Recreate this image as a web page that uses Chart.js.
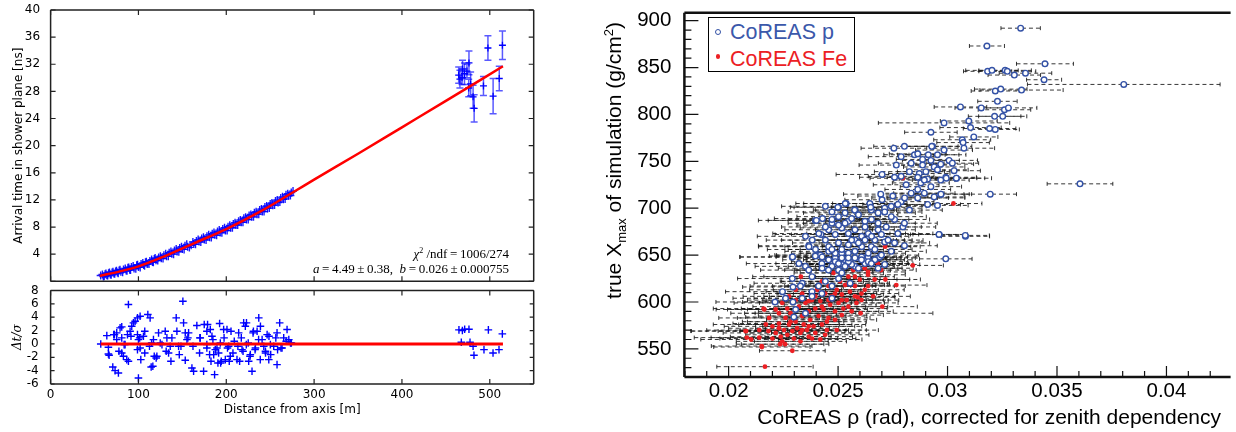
<!DOCTYPE html>
<html>
<head>
<meta charset="utf-8">
<script src="https://cdn.jsdelivr.net/npm/chart.js@4.4.1/dist/chart.umd.min.js"></script>
<style>
  body { margin: 0; width: 1236px; height: 432px; position: relative; overflow: hidden; background: #fff; }
  canvas { position: absolute; }
  .note { position: absolute; right: 727px; white-space: nowrap; font: 13px 'Liberation Serif'; line-height: 16px; color: #000; }
  .note sup { font-size: 8px; line-height: 0; vertical-align: 5px; }
  #legend { position: absolute; left: 708px; top: 17px; width: 145px; height: 53px; border: 1.5px solid #000; background: #fff; font: 21.5px 'Liberation Sans'; }
  #legend div { position: absolute; white-space: nowrap; line-height: 24px; }
  .rtitle { position: absolute; white-space: nowrap; font: 21px 'Liberation Sans'; line-height: 26px; color: #000; }
  .rtitle sub, .rtitle sup { font-size: 13px; line-height: 0; }
</style>
</head>
<body>
<canvas id="timeChart" width="540" height="311" style="left:0;top:-20px"></canvas>
<canvas id="residChart" width="540" height="167" style="left:0;top:265px"></canvas>
<canvas id="rhoChart" width="636" height="452" style="left:600px;top:-20px"></canvas>

<div class="note" style="top:246px"><i>χ</i><sup>2</sup> /ndf&thinsp;=&thinsp;1006/274</div>
<div class="note" style="top:260.5px"><i>a</i>&thinsp;=&thinsp;4.49&thinsp;±&thinsp;0.38, &nbsp;<i>b</i>&thinsp;=&thinsp;0.026&thinsp;±&thinsp;0.000755</div>

<div id="legend">
  <div style="left:6px;top:10.8px;width:6px;height:6px;box-sizing:border-box;border:1.3px solid #3452a6;border-radius:50%"></div>
  <div style="left:21px;top:1.8px;color:#3b58aa">CoREAS p</div>
  <div style="left:6.8px;top:36.3px;width:4.4px;height:4.4px;border-radius:50%;background:#ec2024"></div>
  <div style="left:21px;top:28.8px;color:#ec2024">CoREAS Fe</div>
</div>

<div class="rtitle" style="left:454px;top:169px;width:320px;text-align:right;transform:rotate(-90deg)">true X<sub>max</sub> of simulation (g/cm<sup>2</sup>)</div>
<div class="rtitle" style="right:15px;top:404px">CoREAS ρ (rad), corrected for zenith dependency</div>

<script>
// ---- left panel: arrival time vs distance ----
const bandDist = [57,60,62,64,66,68,70,72,74,76,78,80,83,86,88,90,92,95,98,100,103,106,108,110,113,116,118,120,123,126,129,132,135,138,141,144,147,150,153,156,160,163,166,169,172,175,178,181,184,187,190,193,196,199,202,205,208,211,214,217,220,223,226,229,232,235,238,241,244,247,250,253,256,259,262,265,268,271,274,
  59,61,63,65,67,69,71,73,75,77,79,82,85,87,89,91,94,97,99,102,105,107,109,112,115,117,119,122,125,128,131,134,137,140,143,146,149,152,155,158,162,165,168,171,174,177,180,183,186,189,192,195,198,201,204,207,210,213,216,219,222,225,228,231,234,237,240,243,246,249,252,255,258,261,264,267,270,273,276];
const bandTime = [0.85,0.7,1.05,0.9,1.2,1.0,1.3,1.15,1.45,1.3,1.6,1.4,1.75,1.6,2.0,1.7,2.1,1.9,2.35,2.1,2.55,2.4,2.8,2.55,3.0,2.85,3.3,3.1,3.5,3.4,3.85,3.7,4.2,4.05,4.55,4.4,4.9,4.75,5.25,5.1,5.3,5.5,5.95,5.85,6.3,6.15,6.65,6.5,7.0,6.85,7.35,7.2,7.7,7.5,8.05,7.9,8.45,8.3,8.85,8.7,9.3,9.1,9.7,9.5,10.1,9.9,10.5,10.3,10.95,10.75,11.4,11.2,11.85,11.6,12.3,12.1,12.75,12.6,13.1,
  1.0,0.75,1.15,0.85,1.3,0.95,1.4,1.1,1.55,1.2,1.7,1.35,1.9,1.55,2.05,1.65,2.25,1.85,2.45,2.05,2.7,2.3,2.9,2.55,3.2,2.8,3.45,3.05,3.7,3.35,4.05,3.7,4.4,4.0,4.75,4.35,5.1,4.7,5.45,5.0,5.8,5.45,6.15,5.8,6.5,6.1,6.85,6.45,7.2,6.8,7.55,7.15,7.9,7.5,8.25,7.9,8.65,8.3,9.05,8.7,9.45,9.1,9.85,9.5,10.25,9.9,10.65,10.3,11.1,10.8,11.55,11.25,12.0,11.7,12.45,12.15,12.9,12.65,13.3];

const farDist = [464.6,466,468.4,469,471.2,474,476.3,476,478.2,481,482.2,492.8,497.9,503.8,510.8,514.4];
const farTime = [30.4,29.8,30.0,31.3,30.6,31.0,32.2,28.5,29.1,27.2,25.5,28.8,34.4,27.3,29.9,34.8];
const farErr = [1.2,1.3,1.0,1.3,1.6,1.0,1.75,1.3,1.75,1.7,2.0,1.4,1.8,2.6,1.8,2.1];

const fitDist = [56,80,100,128,163,200,239,277,300,350,400,450,515];
const fitTime = [0.8,1.5,2.2,3.6,5.6,7.7,10.3,13.2,15.0,18.8,22.7,26.6,31.7];

const resDist = [
  57.1,64,65.8,65.8,66.6,70.8,73.4,77.2,72.7,75.3,
  75.3,79.1,81,81,81,82.9,86.7,88.6,88.6,87.5,
  84.8,90.5,92.4,94.3,96.2,98.9,101.9,98.9,100,101.9,
  102.7,100,98.9,105.7,110.7,113.3,112.6,114.5,116.4,118,
  120.2,117.1,122.9,124.8,130.5,132.4,131.6,134.3,136.2,137,
  138.1,143,145.7,143.8,150.6,151.4,153.3,153.3,155.2,157.1,
  160.9,162.8,166.5,169.6,170.4,174.2,174.9,178.7,177.9,181.8,
  181,183.7,184.8,186.7,187.5,189.4,190.5,191.3,192.4,193.2,
  194.3,197,198.9,200.8,202.7,204.6,207.6,209.1,212.2,214.1,
  217.9,219.8,221.7,222.8,225.5,227.4,229.3,230.5,233.2,235.1,
  237,238.9,240.8,244.6,246.5,248.4,250.2,254,257.8,257.8,
  260.8,263.5,269.2,271.2,273.1,265.4,170,177.9,182.6,185.7,
  193.6,197.5,201.4,203.4,205.4,213.2,215.2,217.1,219.1,223,
  225,227,230.9,232.8,236.8,238.7,242.7,244.7,248.6,250.6,
  256.4,258.4,262.3,268.2,274.1,177.9,162.1,156.3,148.4,126.8,
  115,107.2,101.4,91.5,83.7,71.9,77.8,107.2,121,146.5,
  464.9,468.8,471.4,476.3,498.4,514.3,467.6,477.5,481,482,
  493.4,503.7,510.5];
const resVal = [
  0,1.25,-0.5,-1.5,-1.7,-3.45,-4,-4.35,1.4,1.65,
  0.65,2.4,2.55,0.9,-1.35,-1.85,-2.35,-2.6,5.9,1.4,
  -0.1,1.9,2.65,3.15,3.4,3.9,4.15,1.4,0.65,-0.6,
  -2.35,-5.1,-0.85,1.15,4.4,3.9,-0.35,-3.45,-3.35,-1.85,
  -2.1,0.65,1.65,0.15,1.9,0.9,-1.1,-1.35,-0.35,-2.6,
  0.9,3.9,-0.35,1.9,6.4,3.15,1.65,-2.45,0.65,1.65,
  -3.6,-4.1,2.75,-1.35,0.9,-4.1,2.9,2.9,-0.1,2.15,
  -1.6,1.15,0.65,-4.6,-0.85,-0.6,-2.85,-1.35,3.05,0.15,
  -2.6,2.15,-2.35,2.15,-0.35,-1.85,-1.35,0.4,-2.35,1.65,
  -0.85,3.15,2.65,-0.1,-2.6,-1.6,-4.1,1.65,-0.6,1.9,
  3.9,2.65,0.65,-1.1,1.4,-2.35,-0.1,-0.35,-3.1,1.65,
  3.15,-0.6,2.15,0.65,0.15,0.9,0.9,-0.6,-2.6,-1.6,
  -2.85,0.9,-0.6,-2.6,1.9,-0.35,-2.6,0.9,-1.1,3.15,
  0.15,-1.85,1.9,-0.85,0.65,-2.35,-0.35,-1.35,1.15,-1.6,
  0.9,-0.85,-0.6,0.4,0.15,1.9,-0.35,0.9,-0.35,-0.1,
  0.15,1.9,0.9,1.15,-0.1,1.4,-1.1,-1.35,-1.85,-1.6,
  2.1,2.0,2.2,2.2,2.1,1.5,0.25,0.25,-0.35,-1.7,
  -0.85,-1.35,-0.85];
const resFitDist = [57,515];
const resFitVal = [0,0];

const distTicks = [0,100,200,300,400,500];
const timeTicks = [4,8,12,16,20,24,28,32,36,40];
const timeFrameTicks = [0,4,8,12,16,20,24,28,32,36,40];
const residTicks = [-6,-4,-2,0,2,4,6,8];

// ---- right panel: CoREAS rho vs Xmax ----
const pRho = [
  0.03334,0.0318,0.03445,0.03183,0.03203,0.03263,0.03273,0.03305,0.03356,0.03441,
  0.03805,0.03338,0.03218,0.03243,0.03228,0.03059,0.03154,0.0326,0.03278,0.03252,
  0.03215,0.03097,0.02984,0.03105,0.03192,0.03218,0.02924,0.0312,0.03067,0.02755,
  0.02803,0.02931,0.03075,0.02766,0.02928,0.03071,0.02849,0.02864,0.02912,0.02886,
  0.02924,0.02969,0.03007,0.03022,0.02886,0.02939,0.02826,0.02871,0.02901,0.0303,
  0.02701,0.02758,0.02788,0.02864,0.02909,0.02992,0.03041,0.02811,0.02878,0.02924,
  0.03605,0.02969,0.02695,0.03195,0.0275,0.02788,0.02864,0.02909,0.02954,0.02537,
  0.02502,0.02577,0.02652,0.02713,0.02396,0.02429,0.02472,0.02547,0.02623,0.02683,
  0.02758,0.02796,0.02962,0.03082,0.02366,0.02442,0.02502,0.02577,0.02652,0.02713,
  0.02803,0.02291,0.02411,0.02487,0.02547,0.02623,0.02683,0.02992,0.02419,0.02457,
  0.02517,0.02577,0.02637,0.0269,0.02426,0.02487,0.02524,0.02577,0.02623,0.02683,
  0.02291,0.02336,0.02381,0.02442,0.02472,0.02502,0.02555,0.02246,0.02294,0.02381,
  0.02426,0.02212,0.02294,0.02336,0.02472,0.02306,0.02298,0.02367,0.02422,0.02401,
  0.02499,0.02533,0.02576,0.02961,0.03081,0.0297,0.02994,0.0304,0.02292,0.02442,
  0.02472,0.02502,0.02532,0.02562,0.02593,0.02623,0.02653,0.02683,0.0272,0.02457,
  0.02487,0.02517,0.02547,0.02577,0.02608,0.02638,0.02668,0.02457,0.02517,0.02547,
  0.02577,0.02608,0.02638,0.02668,0.02502,0.02532,0.02562,0.02593,0.02472,0.02427,
  0.02713,0.02743,0.02773,0.02803,0.02826,0.02743,0.02645,0.02649,0.02701,0.02351,
  0.02382,0.02412,0.02442,0.02472,0.02502,0.02532,0.02562,0.02593,0.02623,0.02653,
  0.02698,0.02728,0.02758,0.02397,0.02427,0.02457,0.02487,0.02517,0.02547,0.02577,
  0.02608,0.02638,0.02668,0.02698,0.02683,0.02713,0.02743,0.02773,0.02804,0.02834,
  0.02864,0.02894,0.02939,0.02969,0.02954,0.02894,0.02834,0.02788,0.02954,0.02984,
  0.02472,0.02502,0.02532,0.02351,0.02321,0.02366,0.02396,0.02456,0.02517,0.02547,
  0.02607,0.02652,0.02328,0.02381,0.02411,0.0226,0.02351];
const pXmax = [
  892,873,854,846,847,847,846,842,844,837,
  832,826,825,827,814,808,807,805,807,798,
  798,793,791,786,785,784,781,776,773,764,
  766,766,764,746,766,770,757,758,757,752,
  751,747,751,748,746,744,739,737,739,740,
  736,733,734,733,731,733,732,725,727,723,
  726,715,715,715,713,707,711,704,703,705,
  701,698,698,700,687,689,684,686,686,684,
  688,680,672,670,660,666,663,666,659,664,
  660,648,650,647,652,645,647,646,650,654,
  652,654,648,648,641,643,640,638,641,636,
  625,620,627,622,617,625,620,611,616,611,
  609,600,600,604,604,592,584,659,672,687,
  701,705,698,672,671,715,732,732,648,702,
  696,691,695,689,693,680,688,677,680,677,
  672,679,673,677,670,673,666,659,656,661,
  654,659,652,656,641,645,640,636,638,636,
  640,654,673,684,698,691,705,701,709,670,
  666,673,680,688,682,684,666,663,666,670,
  672,666,663,656,648,645,652,647,643,647,
  648,643,645,650,695,696,702,704,711,716,
  720,716,712,730,741,730,748,755,757,762,
  656,634,638,638,641,634,649,634,631,647,
  645,641,617,606,617,604,588];
const pErr = [
  0.0009,0.0008,0.0013,0.0011,0.0012,0.0012,0.0013,0.0012,0.0012,0.0008,
  0.0044,0.0019,0.0011,0.0012,0.0009,0.0012,0.0012,0.0012,0.0013,0.0011,
  0.0012,0.0013,0.003,0.0014,0.0012,0.0011,0.0012,0.0011,0.0013,0.0015,
  0.0014,0.0018,0.0014,0.0017,0.0012,0.0012,0.0014,0.0013,0.0014,0.0012,
  0.0013,0.0015,0.0013,0.0012,0.0013,0.0014,0.0016,0.0014,0.0013,0.0012,
  0.0021,0.0016,0.0015,0.0014,0.0013,0.0014,0.0016,0.0015,0.0013,0.0014,
  0.0015,0.0013,0.0017,0.0012,0.0016,0.0015,0.0014,0.0015,0.0014,0.0023,
  0.0022,0.0019,0.0018,0.0017,0.0026,0.0022,0.002,0.0019,0.0018,0.0017,
  0.0016,0.0015,0.0012,0.0011,0.0023,0.002,0.0021,0.0019,0.0018,0.0017,
  0.0015,0.0024,0.002,0.002,0.0019,0.0018,0.0017,0.0012,0.002,0.002,
  0.0019,0.0018,0.0018,0.0017,0.0021,0.002,0.0019,0.0018,0.0017,0.0016,
  0.0025,0.0022,0.0022,0.002,0.002,0.0019,0.0018,0.0026,0.0023,0.0021,
  0.002,0.0027,0.0023,0.0022,0.002,0.0022,0.0022,0.0023,0.0021,0.0022,
  0.002,0.0019,0.0018,0.0013,0.0011,0.0014,0.0014,0.0013,0.0024,0.002,
  0.002,0.0019,0.0019,0.0018,0.0018,0.0018,0.0017,0.0017,0.0016,0.002,
  0.002,0.0019,0.0019,0.0018,0.0018,0.0017,0.0017,0.002,0.0019,0.0019,
  0.0018,0.0018,0.0017,0.0017,0.002,0.0019,0.0019,0.0018,0.002,0.002,
  0.0016,0.0016,0.0016,0.0015,0.0015,0.0016,0.0017,0.0018,0.0017,0.0022,
  0.0021,0.0021,0.002,0.002,0.0019,0.0019,0.0019,0.0018,0.0018,0.0017,
  0.0017,0.0016,0.0016,0.0022,0.0021,0.0021,0.002,0.002,0.0019,0.0019,
  0.0018,0.0018,0.0017,0.0017,0.0017,0.0017,0.0016,0.0016,0.0015,0.0015,
  0.0015,0.0014,0.0014,0.0013,0.0014,0.0014,0.0015,0.0015,0.0013,0.0013,
  0.002,0.002,0.0019,0.0023,0.0024,0.0022,0.0021,0.002,0.0019,0.0019,
  0.0018,0.0017,0.0023,0.0022,0.0021,0.0024,0.0023];

const feRho = [
  0.03027,0.02939,0.02796,0.02841,0.02715,0.02637,0.0233,0.02716,0.02766,0.02702,
  0.02603,0.02163,0.0208,0.02083,0.02103,0.0214,0.02152,0.02235,0.02258,0.02291,
  0.02166,0.02607,0.02547,0.0259,0.0216,0.02077,0.02151,0.022,0.02215,0.0223,
  0.02238,0.02253,0.0226,0.02268,0.02276,0.02283,0.02291,0.02298,0.02306,0.02313,
  0.02321,0.02328,0.02336,0.02343,0.02351,0.02358,0.02366,0.02373,0.02381,0.02388,
  0.02396,0.02404,0.02411,0.02419,0.02426,0.02434,0.02441,0.02449,0.02456,0.02464,
  0.02471,0.02479,0.02486,0.02494,0.02502,0.02509,0.02517,0.02524,0.02532,0.02539,
  0.02547,0.02554,0.02562,0.02569,0.02577,0.02584,0.02599,0.02622,0.02637,0.0266,
  0.02682,0.02245,0.022,0.02182,0.02366,0.02419,0.02449,0.0223,0.02268,0.02185,
  0.02215,0.02245,0.02276,0.02306,0.02336,0.02366,0.02396,0.02426,0.02456,0.02486,
  0.02517,0.02547,0.02577,0.02607,0.02637,0.02667,0.02697,0.02517,0.02486,0.02456,
  0.02426,0.02396,0.02366,0.02336,0.02306,0.02283,0.02328,0.02381,0.02441,0.02494,
  0.0223,0.0217,0.0214,0.02577,0.02622,0.02502,0.02547];
const feXmax = [
  705,711,732,639,659,632,627,624,618,595,
  588,592,569,562,560,562,552,555,555,548,
  531,609,620,605,593,569,553,574,567,577,
  563,570,583,565,576,588,569,561,579,572,
  595,567,585,576,599,570,590,581,602,574,
  593,613,585,601,622,592,609,579,617,597,
  606,631,590,613,599,622,608,593,618,602,
  627,611,590,634,617,599,624,613,629,606,
  641,558,561,569,563,560,570,588,593,583,
  592,599,606,613,570,574,567,576,583,581,
  586,595,606,602,617,624,634,602,609,602,
  595,606,601,609,602,579,558,561,565,570,
  572,576,570,627,636,634,640];
const feErr = [
  0.0013,0.0014,0.0015,0.0014,0.0016,0.0017,0.0022,0.0016,0.0014,0.0016,
  0.0033,0.0022,0.0025,0.0024,0.0023,0.0022,0.0022,0.002,0.002,0.0015,
  0.0022,0.0017,0.0018,0.0017,0.0023,0.0025,0.0023,0.0022,0.0024,0.0021,
  0.0023,0.002,0.0022,0.0019,0.0023,0.0021,0.0024,0.002,0.0022,0.0019,
  0.0021,0.0023,0.002,0.0022,0.0021,0.0019,0.0023,0.002,0.0021,0.0022,
  0.0019,0.002,0.0022,0.0021,0.0019,0.002,0.0022,0.0018,0.002,0.0021,
  0.0019,0.0018,0.002,0.0019,0.0021,0.0018,0.0019,0.002,0.0018,0.0019,
  0.0017,0.0018,0.0019,0.0017,0.0018,0.0019,0.0017,0.0018,0.0017,0.0017,
  0.0016,0.0021,0.0024,0.0023,0.002,0.0019,0.0018,0.0022,0.0021,0.0023,
  0.0022,0.0022,0.0021,0.0021,0.002,0.0021,0.002,0.002,0.0019,0.0019,
  0.0019,0.0018,0.0018,0.0017,0.0017,0.0016,0.0016,0.0019,0.0019,0.002,
  0.002,0.0021,0.0021,0.0022,0.0022,0.0022,0.0021,0.002,0.002,0.0019,
  0.0023,0.0024,0.0024,0.0018,0.0017,0.0019,0.0018];

const rhoTicks = [0.02,0.025,0.03,0.035,0.04];
const rhoTickLabels = ['0.02','0.025','0.03','0.035','0.04'];
const rhoMinor = [0.018,0.019,0.021,0.022,0.023,0.024,0.026,0.027,0.028,0.029,0.031,0.032,0.033,0.034,0.036,0.037,0.038,0.039,0.041,0.042];
const xmaxTicks = [550,600,650,700,750,800,850,900];
const xmaxMinor = [530,540,560,570,580,590,610,620,630,640,660,670,680,690,710,720,730,740,760,770,780,790,810,820,830,840,860,870,880,890];

Chart.defaults.color = '#000';
Chart.defaults.animation = false;
Chart.defaults.events = [];
Chart.defaults.plugins.legend.display = false;
Chart.defaults.plugins.tooltip.enabled = false;

const pts = (xs, ys) => xs.map((v, i) => ({ x: v, y: ys[i] }));
const fixTicks = vals => s => { s.ticks = vals.map(v => ({ value: v })); };

// error bars drawn under the markers, positions from the chart scales
const errorBars = {
  id: 'errorBars',
  beforeDatasetsDraw(chart) {
    const { ctx, chartArea: a, scales: { x, y } } = chart;
    ctx.save();
    ctx.beginPath();
    ctx.rect(a.left, a.top, a.right - a.left, a.bottom - a.top);
    ctx.clip();
    chart.data.datasets.forEach(ds => {
      const e = ds.errorBars;
      if (!e) return;
      ctx.strokeStyle = e.color;
      ctx.lineWidth = e.width;
      ds.data.forEach((p, i) => {
        const px = x.getPixelForValue(p.x), py = y.getPixelForValue(p.y);
        if (e.x) {
          const l = x.getPixelForValue(p.x - e.x[i]), r = x.getPixelForValue(p.x + e.x[i]);
          ctx.setLineDash(e.dash || []);
          ctx.beginPath(); ctx.moveTo(l, py); ctx.lineTo(r, py); ctx.stroke();
          ctx.setLineDash([]);
          ctx.beginPath();
          ctx.moveTo(l, py - e.cap); ctx.lineTo(l, py + e.cap);
          ctx.moveTo(r, py - e.cap); ctx.lineTo(r, py + e.cap);
          ctx.stroke();
        }
        if (e.y) {
          const t = y.getPixelForValue(p.y + e.y[i]), b = y.getPixelForValue(p.y - e.y[i]);
          ctx.beginPath();
          ctx.moveTo(px, t); ctx.lineTo(px, b);
          ctx.moveTo(px - e.cap, t); ctx.lineTo(px + e.cap, t);
          ctx.moveTo(px - e.cap, b); ctx.lineTo(px + e.cap, b);
          ctx.stroke();
        }
      });
    });
    ctx.restore();
  }
};

// axis frame with inward-pointing tick marks
const frame = {
  id: 'frame',
  afterDatasetsDraw(chart, args, o) {
    const { ctx, chartArea: a, scales: { x, y } } = chart;
    ctx.save();
    ctx.strokeStyle = o.color;
    ctx.lineWidth = o.width;
    ctx.beginPath();
    if (o.sides.includes('top')) { ctx.moveTo(a.left, a.top); ctx.lineTo(a.right, a.top); }
    if (o.sides.includes('bottom')) { ctx.moveTo(a.left, a.bottom); ctx.lineTo(a.right, a.bottom); }
    if (o.sides.includes('left')) { ctx.moveTo(a.left, a.top); ctx.lineTo(a.left, a.bottom); }
    if (o.sides.includes('right')) { ctx.moveTo(a.right, a.top); ctx.lineTo(a.right, a.bottom); }
    ctx.stroke();
    ctx.lineWidth = o.tickWidth;
    ctx.beginPath();
    const xt = (vals, len) => vals.forEach(v => {
      const p = x.getPixelForValue(v);
      if (p < a.left - 1 || p > a.right + 1) return;
      o.xSides.forEach(s => {
        const y0 = s === 'bottom' ? a.bottom : a.top;
        ctx.moveTo(p, y0); ctx.lineTo(p, y0 + (s === 'bottom' ? -len : len));
      });
    });
    const yt = (vals, len) => vals.forEach(v => {
      const p = y.getPixelForValue(v);
      if (p < a.top - 1 || p > a.bottom + 1) return;
      o.ySides.forEach(s => {
        const x0 = s === 'left' ? a.left : a.right;
        ctx.moveTo(x0, p); ctx.lineTo(x0 + (s === 'left' ? len : -len), p);
      });
    });
    xt(o.xMajor, o.xLen);
    yt(o.yMajor, o.yLen);
    if (o.xMinor) xt(o.xMinor, o.xMinorLen);
    if (o.yMinor) yt(o.yMinor, o.yMinorLen);
    ctx.stroke();
    ctx.restore();
  }
};

const leftFont = { family: 'DejaVu Sans', size: 12 };

new Chart(document.getElementById('timeChart'), {
  type: 'scatter',
  data: {
    datasets: [
      { type: 'line', data: pts(fitDist, fitTime), borderColor: '#ff0000', borderWidth: 2.5,
        pointRadius: 0, cubicInterpolationMode: 'monotone', fill: false },
      { data: pts(farDist, farTime), pointStyle: 'cross', pointRadius: 3.5, borderColor: '#0000ff', borderWidth: 1.3,
        errorBars: { y: farErr, color: 'rgba(0,0,255,0.65)', width: 1.5, cap: 3.5 } },
      { data: pts(bandDist, bandTime), pointStyle: 'cross', pointRadius: 4, borderColor: 'rgba(0,0,255,0.9)', borderWidth: 1.4 }
    ]
  },
  options: {
    responsive: false,
    layout: { padding: { top: 30, right: 6.3, left: 0, bottom: 0 } },
    scales: {
      x: { type: 'linear', min: 0, max: 550, display: false },
      y: {
        min: 0, max: 40,
        afterBuildTicks: fixTicks(timeTicks),
        afterFit: s => { s.width = 50.6; },
        grid: { display: false }, border: { display: false },
        ticks: { padding: 2.5, autoSkip: false, font: leftFont },
        title: { display: true, text: 'Arrival time in shower plane [ns]', font: leftFont, padding: { top: 11.8, bottom: 0 } }
      }
    },
    plugins: {
      frame: { color: '#222', width: 1.5, tickWidth: 1.2, sides: ['top', 'bottom', 'left', 'right'],
        xSides: ['top', 'bottom'], ySides: ['left', 'right'],
        xMajor: distTicks, xLen: 5, yMajor: timeFrameTicks, yLen: 5 }
    }
  },
  plugins: [errorBars, frame]
});

new Chart(document.getElementById('residChart'), {
  type: 'scatter',
  data: {
    datasets: [
      { type: 'line', data: pts(resFitDist, resFitVal), borderColor: '#ff0000', borderWidth: 3, pointRadius: 0, fill: false },
      { data: pts(resDist, resVal), pointStyle: 'cross', pointRadius: 3.8, borderColor: '#0000ff', borderWidth: 1.4 }
    ]
  },
  options: {
    responsive: false,
    layout: { padding: { top: 25.5, right: 6.3, left: 0, bottom: 0 } },
    scales: {
      x: {
        type: 'linear', min: 0, max: 550,
        afterBuildTicks: fixTicks(distTicks),
        afterFit: s => { s.height = 48; },
        grid: { display: false, drawTicks: false }, border: { display: false },
        ticks: { padding: 4, maxRotation: 0, autoSkip: false, font: leftFont },
        title: { display: true, text: 'Distance from axis [m]', font: leftFont, padding: { top: 0, bottom: 14.8 } }
      },
      y: {
        min: -6, max: 8,
        afterBuildTicks: fixTicks(residTicks),
        afterFit: s => { s.width = 50.6; },
        grid: { display: false }, border: { display: false },
        ticks: { padding: 4, autoSkip: false, font: leftFont },
        title: { display: true, text: 'Δt/σ', font: { family: 'DejaVu Serif', size: 12, style: 'italic' }, padding: { top: 11, bottom: 0 } }
      }
    },
    plugins: {
      frame: { color: '#222', width: 1.5, tickWidth: 1.2, sides: ['top', 'bottom', 'left', 'right'],
        xSides: ['top', 'bottom'], ySides: ['left', 'right'],
        xMajor: distTicks, xLen: 5, yMajor: residTicks, yLen: 4 }
    }
  },
  plugins: [frame]
});

const rightFont = { family: 'Liberation Sans', size: 20.5 };

new Chart(document.getElementById('rhoChart'), {
  type: 'scatter',
  data: {
    datasets: [
      { label: 'CoREAS p', data: pts(pRho, pXmax), pointStyle: 'circle', pointRadius: 2.8, borderWidth: 1.4,
        borderColor: '#3452a6', backgroundColor: '#ffffff',
        errorBars: { x: pErr, color: 'rgba(20,20,20,0.85)', width: 1, dash: [4, 3], cap: 2 } },
      { label: 'CoREAS Fe', data: pts(feRho, feXmax), pointStyle: 'circle', pointRadius: 2.4, borderWidth: 0,
        borderColor: '#ec2024', backgroundColor: '#ec2024',
        errorBars: { x: feErr, color: 'rgba(20,20,20,0.85)', width: 1, dash: [4, 3], cap: 2 } }
    ]
  },
  options: {
    responsive: false,
    layout: { padding: { top: 32.7, right: 0, left: 0, bottom: 0 } },
    scales: {
      x: {
        type: 'linear', min: 0.01798, max: 0.04293,
        afterBuildTicks: fixTicks(rhoTicks),
        afterFit: s => { s.height = 55; },
        grid: { display: false, drawTicks: false }, border: { display: false },
        ticks: { padding: 2, maxRotation: 0, autoSkip: false, font: rightFont, callback: (v, i) => rhoTickLabels[i] }
      },
      y: {
        min: 520, max: 908.5,
        afterBuildTicks: fixTicks(xmaxTicks),
        afterFit: s => { s.width = 84.4; },
        grid: { display: false }, border: { display: false },
        ticks: { padding: 5, autoSkip: false, font: rightFont }
      }
    },
    plugins: {
      frame: { color: '#111', width: 2.5, tickWidth: 1.2, sides: ['top', 'bottom', 'left'],
        xSides: ['bottom'], ySides: ['left'],
        xMajor: rhoTicks, xLen: 11, xMinor: rhoMinor, xMinorLen: 6,
        yMajor: xmaxTicks, yLen: 14, yMinor: xmaxMinor, yMinorLen: 7 }
    }
  },
  plugins: [errorBars, frame]
});
</script>
</body>
</html>
